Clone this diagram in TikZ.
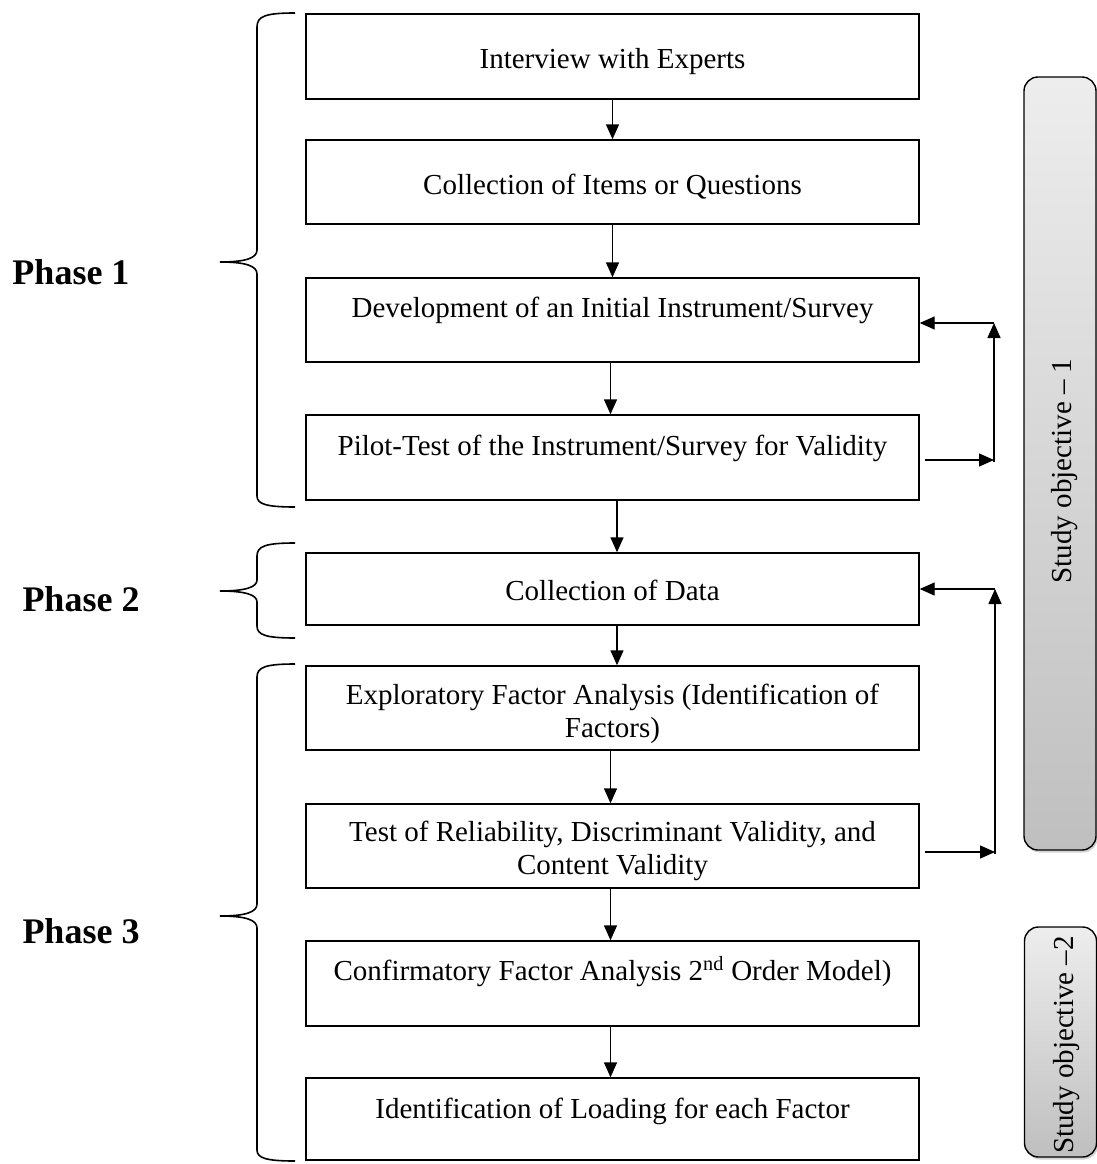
\documentclass[tikz,border=0pt]{standalone}
\usepackage{fontspec}
\setmainfont{Liberation Serif}
\usetikzlibrary{arrows.meta,shadows}
\begin{document}
\begin{tikzpicture}[x=1pt,y=-1pt,
  box/.style={draw,line width=1.4pt,minimum width=613pt,inner sep=0pt},
  txt/.style={font=\fontsize{29}{33}\selectfont,align=center,inner sep=0pt},
  arr/.style={line width=1.4pt,-{Triangle[length=15pt,width=13pt]}},
  bracepath/.style={line width=1.6pt},
  phase/.style={font=\fontsize{36}{40}\selectfont\bfseries,inner sep=0pt},
  objbox/.style={draw,line width=1.4pt,rounded corners=14pt,top color=gray!14,bottom color=gray!50,minimum width=72pt,inner sep=0pt,drop shadow={opacity=0.35,shadow xshift=1.5pt,shadow yshift=-2.5pt}},
  objtxt/.style={font=\fontsize{29}{33}\selectfont,rotate=90,inner sep=0pt}
]
\useasboundingbox (0,0) rectangle (1097,1164);

% boxes
\node[box,minimum height=85pt] (b1) at (612.5,56.5) {};
\node[box,minimum height=84pt] (b2) at (612.5,182) {};
\node[box,minimum height=84pt] (b3) at (612.5,320) {};
\node[box,minimum height=85pt] (b4) at (612.5,457.5) {};
\node[box,minimum height=72pt] (b5) at (612.5,589) {};
\node[box,minimum height=84pt] (b6) at (612.5,708) {};
\node[box,minimum height=84pt] (b7) at (612.5,846) {};
\node[box,minimum height=85pt] (b8) at (612.5,983.5) {};
\node[box,minimum height=82pt] (b9) at (612.5,1119) {};

% texts
\node[txt,anchor=base] (t1) at (612.5,69) {Interview with Experts};
\node[txt,anchor=base] (t2) at (612.5,194) {Collection of Items or Questions};
\node[txt,anchor=base] (t3) at (612.5,317) {Development of an Initial Instrument/Survey};
\node[txt,anchor=base] (t4) at (612.5,455) {Pilot-Test of the Instrument/Survey for Validity};
\node[txt,anchor=base] (t5) at (612.5,600) {Collection of Data};
\node[txt] (t6) at (612.5,714) {Exploratory Factor Analysis (Identification of\\Factors)};
\node[txt] (t7) at (612.5,851) {Test of Reliability, Discriminant Validity, and\\Content Validity};
\node[txt,anchor=base] (t8) at (612.5,980) {Confirmatory Factor Analysis 2\textsuperscript{nd} Order Model)};
\node[txt,anchor=base] (t9) at (612.5,1118) {Identification of Loading for each Factor};

% vertical arrows
\draw[arr] (b1.south) -- (b2.north);
\draw[arr] (b2.south) -- (b3.north);
\draw[arr] ([xshift=-2pt]b3.south) -- ([xshift=-2pt]b4.north);
\draw[arr] ([xshift=4.5pt]b4.south) -- ([xshift=4.5pt]b5.north);
\draw[arr] ([xshift=4.5pt]b5.south) -- ([xshift=4.5pt]b6.north);
\draw[arr] ([xshift=-2pt]b6.south) -- ([xshift=-2pt]b7.north);
\draw[arr] ([xshift=-2pt]b7.south) -- ([xshift=-2pt]b8.north);
\draw[arr] ([xshift=-2pt]b8.south) -- ([xshift=-2pt]b9.north);

% feedback loops
\coordinate (l1b) at (994,460);
\coordinate (l1t) at (994,323);
\coordinate (l1e) at (994,462);
\draw[arr] ([xshift=5pt]b4.east |- l1b) -- (l1b);
\draw[arr] (l1e) -- (l1t);
\draw[arr] (l1t) -- (l1t -| b3.east);

\coordinate (l2b) at (995,852);
\coordinate (l2t) at (995,589);
\coordinate (l2e) at (995,854);
\draw[arr] ([xshift=5pt]b7.east |- l2b) -- (l2b);
\draw[arr] (l2e) -- (l2t);
\draw[arr] (l2t) -- (l2t -| b5.east);

% study objective boxes
\node[objbox,minimum height=773pt] (o1) at (1060,463.5) {};
\node[objtxt] (ot1) at (1065,471) {Study objective -- 1};
\node[objbox,minimum height=230pt] (o2) at (1060.5,1042) {};
\node[objtxt] (ot2) at (1067,1045) {Study objective --2};

% braces
\draw[bracepath] (295,13) .. controls (266,13) and (257,16) .. (257,27) -- (257,250)
  .. controls (257,258) and (246,262) .. (220,262)
  .. controls (246,262) and (257,266) .. (257,274) -- (257,496)
  .. controls (257,504) and (266,507) .. (295,507);
\draw[bracepath] (295,543) .. controls (266,543) and (257,546) .. (257,556) -- (257,580)
  .. controls (257,587) and (246,591) .. (220,591)
  .. controls (246,591) and (257,595) .. (257,602) -- (257,626)
  .. controls (257,635) and (266,638) .. (295,638);
\draw[bracepath] (295,664) .. controls (266,664) and (257,667) .. (257,677) -- (257,904)
  .. controls (257,912) and (246,916) .. (220,916)
  .. controls (246,916) and (257,920) .. (257,928) -- (257,1150)
  .. controls (257,1158) and (266,1161) .. (295,1161);

% phase labels
\node[phase] (p1) at (71,272) {Phase 1};
\node[phase] (p2) at (81,599) {Phase 2};
\node[phase] (p3) at (81,931) {Phase 3};
\end{tikzpicture}
\end{document}
